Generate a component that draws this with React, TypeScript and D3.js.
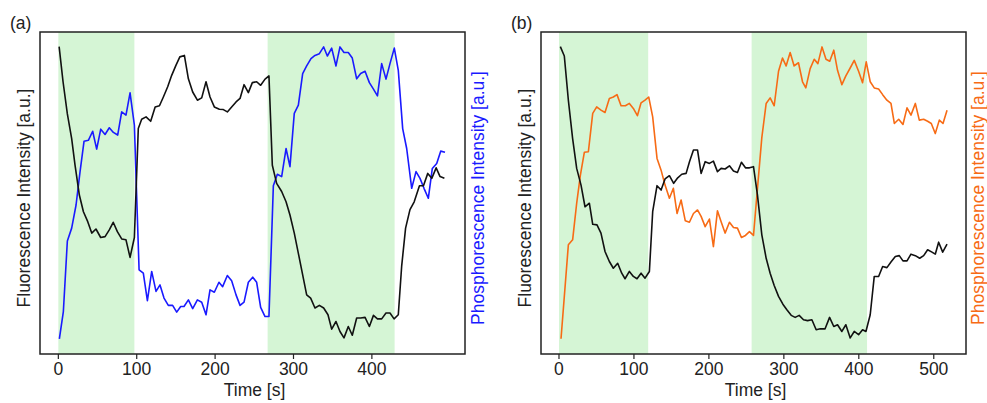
import React from "react";
import * as d3 from "d3";

type P = [number, number];

const xTicksA = [0, 100, 200, 300, 400];
const xTicksB = [0, 100, 200, 300, 400, 500];
const spansA: P[] = [[0, 97], [267, 429]];
const spansB: P[] = [[0, 119], [257, 411]];

const fluorA: P[] = [[1,100],[6,88],[11.5,77],[17,68.6],[21.3,59.5],[26.8,49.3],[32,43.6],[37.5,40.2],[42.6,36.3],[48,37.7],[54,34.8],[59.6,35.1],[65,37.4],[70,40],[75.3,36.8],[80.8,34.3],[86.3,34],[91.5,28],[97,34.8],[102,72],[106.3,75.2],[111.9,76],[117.8,74.5],[123.5,79.4],[129,79.8],[134,82.8],[139.5,86.3],[144.6,90.2],[150,93.6],[155,96.5],[160.8,97],[165.9,89],[171.4,84.5],[177.4,81.7],[182.9,82.5],[188.4,88],[193.5,82.8],[199,79.4],[205.4,78.6],[210.5,78.5],[215.6,77.7],[221.1,79.4],[226.7,81.1],[231.8,82.3],[236.9,87],[242.4,84.3],[247.5,87.7],[253,88],[258.1,86.8],[263.7,88.9],[268.7,90],[273,59.5],[278.5,53.3],[284.9,50.5],[290.5,47],[295.5,42.5],[301,36.3],[306.2,29.4],[311.7,22],[316.8,15.2],[321.9,14.1],[327.4,10.7],[333,11.6],[338.5,10.7],[344,8.4],[348.7,3.5],[354.2,6.1],[359.3,2.7],[364.4,0.5],[369.9,4.4],[375,1.4],[380.6,7.3],[385.7,7.3],[391.3,7.5],[396.8,4.4],[402,8.2],[407.1,7],[412.5,7],[418,9],[423.1,9],[428.3,7],[433.7,8.4],[438,25],[443,38],[448.6,44.3],[454,47],[460.7,52.5],[465.8,52.5],[471.3,56.7],[476.4,55],[482,58.6],[487,55.6],[492.5,55]];

const phosA: P[] = [[1.3,0.2],[6.4,9.5],[11.5,33.6],[17,38],[22.6,45.9],[27.7,57.3],[32.8,67.7],[38.3,68],[43.8,71.1],[48.9,65],[54.1,71.8],[59.6,70],[65,72.3],[70.2,70.7],[75.7,69.8],[80.8,77.7],[86.3,76.6],[91.5,84.2],[97,73.2],[103,23.75],[108.4,22.6],[113.6,13.2],[119.1,23.2],[124.6,16.4],[129.7,18.6],[134.8,14.1],[140.3,11.6],[145.8,11.6],[151,9.3],[156.1,11.25],[160.3,11.25],[165.9,13.5],[171.4,10.5],[177.4,13.5],[182.9,12.7],[188.4,8.4],[193.5,16.9],[199,16.1],[204.9,19.5],[209.6,18],[215.6,21.8],[221.1,20],[226.7,15.2],[231.8,11.6],[236.9,12.7],[242.4,19.5],[248,21.25],[253,19.5],[258.1,10.9],[263.7,7.8],[268.7,7.8],[274.3,52.5],[279.4,56.4],[284.9,55.6],[290.5,65.2],[295.5,59],[301,77.2],[306.2,80],[311.7,90.8],[316.8,93.4],[322.3,95.9],[327.4,97],[333,97.6],[338.5,99.9],[343.2,96.8],[348.7,99.5],[354.2,93.4],[359.3,99.9],[364.4,98],[369.9,98],[375,96.1],[380.6,89],[385.7,90.8],[391.3,91.6],[396.8,87.7],[402,85.5],[407.1,83.2],[412.5,94.2],[418,88.9],[423.1,94.2],[428.6,99.5],[433.7,91.9],[439.3,72],[444.4,65.2],[450.8,51.6],[456.3,57.3],[461.4,55],[466.5,51.6],[472,48.2],[477.1,58.4],[482.7,60.1],[487.8,64.3],[493.3,63.9]];

const fluorB: P[] = [[1.8,100],[7.1,96.8],[12.5,81.7],[18.2,68.6],[23.6,58.4],[29.4,52.7],[34.7,45.3],[40.5,46.5],[45,39.3],[50.7,39.1],[56,36.3],[61.4,30],[67.2,26.6],[72.5,24.3],[78.3,26],[83.7,22.6],[88.1,20.7],[93.9,23.2],[99.2,21.5],[104.1,20.7],[109.5,22.6],[114.8,20.9],[120.6,23.2],[125,43.6],[130.8,52.5],[136.2,51],[141.5,54.8],[147.3,55.9],[153,53.3],[158.4,55.2],[163.8,56.4],[169.6,56.7],[174.1,60.7],[179.4,64.7],[184.8,64.7],[189.6,56.7],[195,60.7],[200.7,60.1],[206,60.9],[211.4,57.3],[216.3,58.4],[221.6,58.2],[227.4,59.3],[232.8,57.5],[238.1,57],[243.4,60.5],[248.8,58.6],[254.1,58.6],[259.5,59],[264.8,49.3],[270.6,35.7],[276.4,27.7],[281.7,22.6],[287.1,18.4],[292.9,14.7],[298.7,12],[304,10.1],[309.8,8.2],[315.1,7.5],[320.4,8.2],[326.2,6.7],[331.6,6.4],[337.4,6.7],[343.1,3.3],[348.5,3.6],[355,3.6],[361,7.5],[366.6,4.4],[371.6,5],[377.4,2.7],[382.7,5],[388.5,0.5],[393.9,2.7],[399.7,1.6],[405,3.3],[409.5,2.7],[415.2,8.4],[420.6,21.5],[426.4,21.5],[431.8,24.9],[437.5,24.5],[442.9,26.4],[448.7,28.3],[454,28.6],[458.9,26.8],[464.3,26.8],[469.6,29.1],[475.4,28.6],[481.2,27.7],[486.5,28.6],[491.8,30.6],[497.6,29.8],[502,29.1],[506.5,33.2],[511.9,29.8],[517.7,32.5]];

const phosB: P[] = [[2.7,0.2],[12.5,32.3],[18.2,34],[23.6,46.5],[28.5,56],[33.8,63.9],[39.2,64.1],[45,77.2],[50.3,79.4],[56,78.3],[61.4,77.5],[67.2,82.3],[72.5,82.8],[77.4,83.6],[82.8,79.8],[88.6,79.8],[93.9,80.6],[99.2,78.9],[104.6,76.4],[109.5,80.8],[114.8,81.7],[119.7,82.8],[125,76],[130.8,61.8],[136.2,57.8],[141.5,52.7],[147.3,48.2],[152.6,51.6],[157.5,43],[162.9,47.6],[168.5,40.5],[174,40],[179.4,43],[184.8,44.2],[189.6,42],[195,38.5],[200.7,41.1],[206,31.7],[211.4,43.9],[216.3,40.2],[221.6,36.3],[227.4,40],[232.8,38.2],[238.1,38],[243.4,34.8],[248.8,35.5],[254.1,36.8],[259.5,35.5],[264.8,51.6],[270.6,68.9],[276.4,80.6],[281.7,82.5],[287.1,79.8],[292.9,91.6],[298.2,96.1],[303,93.4],[308.4,98],[313.7,93.4],[319.5,94.5],[324.9,88],[329.3,85.9],[335.1,92.5],[340.5,95.7],[345.4,94.2],[350.9,99.9],[356.2,95.7],[361.2,95],[366.6,98.8],[371.6,91.9],[377.4,87],[382.7,90],[388.5,92.7],[393.9,95.3],[399.7,91.6],[405,87.7],[409.9,94.8],[415.2,88],[420.6,85.9],[426.4,85.5],[431.8,83.6],[437.5,81.7],[442.9,80.6],[447.4,73.75],[453.2,75.2],[458.9,73.4],[464.3,79.1],[469.6,76.6],[475.4,80.6],[480.7,74.9],[486.5,75.2],[491.8,74.5],[496.7,73.75],[502,70.3],[507.4,74.9],[512.3,73.75],[517.7,78.3]];

const FONT = "'Liberation Sans', Arial, Helvetica, sans-serif";
const FS = 17.5;
const TOP = 32;
const BOTTOM = 354;

interface PanelProps {
  label: string;
  left: number;
  right: number;
  domain: [number, number];
  ticks: number[];
  spans: P[];
  fluor: P[];
  phos: P[];
  phosColor: string;
  leftLabelX: number;
  rightLabelX: number;
}

function Panel(p: PanelProps) {
  const x = d3.scaleLinear().domain(p.domain).range([p.left, p.right]);
  const y = d3.scaleLinear().domain([-5, 105]).range([BOTTOM, TOP]);
  const line = d3.line<P>().x((d) => x(d[0])).y((d) => y(d[1]));
  const midY = 198;
  return (
    <g>
      {p.spans.map((s, i) => (
        <rect key={i} x={x(s[0])} y={TOP} width={x(s[1]) - x(s[0])} height={BOTTOM - TOP} fill="#d5f5d5" />
      ))}
      <path d={line(p.phos) || ""} fill="none" stroke={p.phosColor} strokeWidth={1.6} strokeLinejoin="round" />
      <path d={line(p.fluor) || ""} fill="none" stroke="#111" strokeWidth={1.6} strokeLinejoin="round" />
      <rect x={p.left} y={TOP} width={p.right - p.left} height={BOTTOM - TOP} fill="none" stroke="#222" strokeWidth={1.5} />
      {p.ticks.map((t) => (
        <g key={t}>
          <line x1={x(t)} x2={x(t)} y1={BOTTOM} y2={BOTTOM + 5} stroke="#222" strokeWidth={1.2} />
          <text x={x(t)} y={375} textAnchor="middle" fontSize={FS} fontFamily={FONT} fill="#222">{t}</text>
        </g>
      ))}
      <text x={(p.left + p.right) / 2 + 2} y={396} textAnchor="middle" fontSize={FS} fontFamily={FONT} fill="#222">Time [s]</text>
      <text transform={`translate(${p.leftLabelX},${midY}) rotate(-90)`} textAnchor="middle" fontSize={FS} fontFamily={FONT} fill="#222">Fluorescence Intensity [a.u.]</text>
      <text transform={`translate(${p.rightLabelX},${midY}) rotate(-90)`} textAnchor="middle" fontSize={FS} fontFamily={FONT} fill={p.phosColor}>Phosphorescence Intensity [a.u.]</text>
      <text x={p.left - 30} y={29} fontSize={FS} fontFamily={FONT} fill="#222">{p.label}</text>
    </g>
  );
}

export default function App() {
  return (
    <svg width={987} height={403} style={{ position: "absolute", left: 0, top: 0, background: "#fff" }}>
      <rect width={987} height={403} fill="#fff" />
      <Panel label="(a)" left={40} right={465} domain={[-23.4, 518.8]} ticks={xTicksA} spans={spansA} fluor={fluorA} phos={phosA} phosColor="#1a1aff" leftLabelX={30} rightLabelX={484} />
      <Panel label="(b)" left={541} right={966} domain={[-24, 543]} ticks={xTicksB} spans={spansB} fluor={fluorB} phos={phosB} phosColor="#f76b15" leftLabelX={531} rightLabelX={984} />
    </svg>
  );
}
